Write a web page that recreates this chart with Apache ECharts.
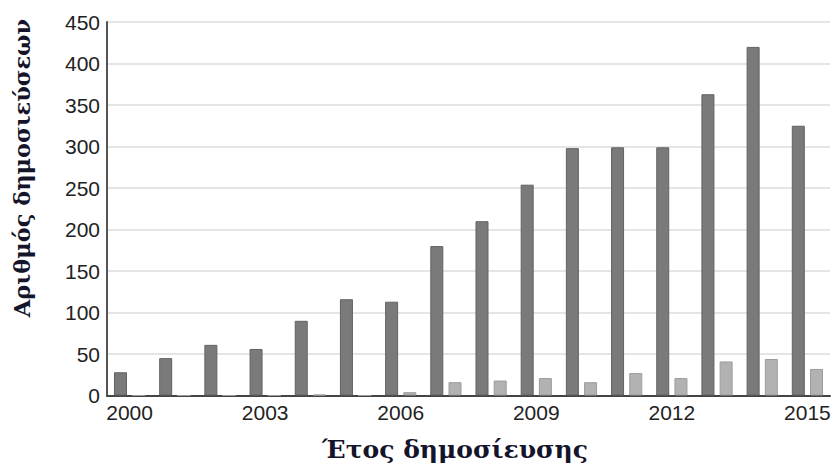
<!DOCTYPE html>
<html><head><meta charset="utf-8">
<script src="https://cdn.jsdelivr.net/npm/echarts@6/dist/echarts.min.js"></script>
<style>html,body{margin:0;padding:0;background:#fff}#c{width:834px;height:469px}</style>
</head><body><div id="c"></div>
<script>
const years = ['2000','2001','2002','2003','2004','2005','2006','2007','2008','2009','2010','2011','2012','2013','2014','2015'];
const darkSeries = [28, 45, 61, 56, 90, 116, 113, 180, 210, 254, 298, 299, 299, 363, 420, 325];
const lightSeries = [0, 0, 0, 0, 1, 0, 4, 16, 18, 21, 16, 27, 21, 41, 44, 32];
const yTitle = 'Αριθμός δημοσιεύσεων';
const xTitle = 'Έτος δημοσίευσης';

const chart = echarts.init(document.getElementById('c'), null, {renderer: 'svg'});
chart.setOption({
  animation: false,
  grid: {left: 107, right: 4, top: 22, bottom: 73.5, containLabel: false},
  xAxis: {
    type: 'category', data: years,
    axisLine: {lineStyle: {color: '#444', width: 2}},
    axisTick: {show: false},
    axisLabel: {interval: 2, color: '#222', fontFamily: 'Liberation Sans', fontSize: 21, margin: 6}
  },
  yAxis: {
    type: 'value', min: 0, max: 450, interval: 50,
    axisLine: {show: true, lineStyle: {color: '#555', width: 2}},
    axisTick: {show: false},
    splitLine: {lineStyle: {color: '#dcdcdc', width: 1.5}},
    axisLabel: {color: '#222', fontFamily: 'Liberation Sans', fontSize: 21, margin: 7}
  },
  series: [
    {type: 'bar', data: darkSeries, barWidth: 13, barGap: '40%',
     itemStyle: {color: '#7a7a7a', borderColor: '#626262', borderWidth: 1}},
    {type: 'bar', data: lightSeries, barWidth: 13,
     itemStyle: {color: '#b2b2b2', borderColor: '#9c9c9c', borderWidth: 1}}
  ],
  graphic: [
    {type: 'text', x: 22, y: 168, rotation: Math.PI/2,
     style: {text: yTitle, fill: '#14142a', font: 'bold 22.5px "DejaVu Serif"', align: 'center', verticalAlign: 'middle'}},
    {type: 'text', x: 455, y: 449,
     style: {text: xTitle, fill: '#14142a', font: 'bold 25px "DejaVu Serif"', align: 'center', verticalAlign: 'middle'}}
  ]
});
</script></body></html>
